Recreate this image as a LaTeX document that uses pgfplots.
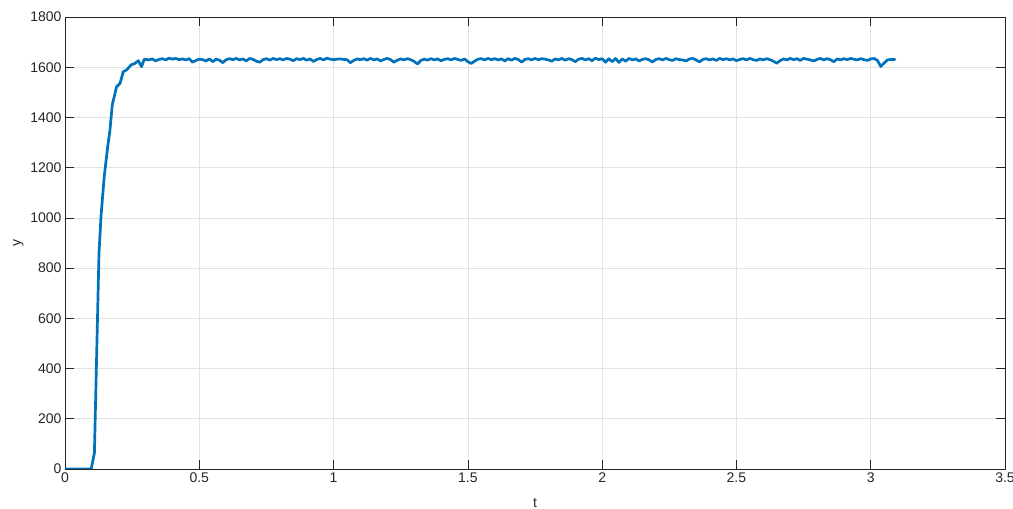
\documentclass[border=0pt]{standalone}
\usepackage{fontspec}
\setmainfont{Liberation Sans}
\usepackage{pgfplots}
\pgfplotsset{compat=1.18}
\definecolor{mblue}{HTML}{0072BD}
\definecolor{axgray}{HTML}{262626}
\definecolor{grd}{HTML}{E2E2E2}
\begin{document}
\begin{tikzpicture}
\begin{axis}[
 scale only axis, width=940pt, height=452pt,
 xmin=0, xmax=3.5, ymin=0, ymax=1800,
 xtick={0,0.5,1,1.5,2,2.5,3,3.5},
 ytick={0,200,400,600,800,1000,1200,1400,1600,1800},
 grid=major, major grid style={grd, line width=0.7pt},
 axis line style={axgray, line width=0.7pt},
 tick style={axgray, line width=0.7pt},
 major tick length=9.4pt,
 tick align=inside,
 ticklabel style={font=\fontsize{14}{16}\selectfont, text=axgray},
 label style={font=\fontsize{14}{16}\selectfont, text=axgray},
 xlabel style={yshift=-9pt},
 /pgf/number format/assume math mode=true,
 /pgf/number format/1000 sep={},
 xlabel={t}, ylabel={y},
]
\addplot[mblue, line width=2.7pt, line join=round, line cap=round] coordinates {
(0,0) (0.0975,0) (0.1095,64) (0.1266,860) (0.1340,1005) (0.1460,1164) (0.1590,1284)
(0.1675,1350) (0.1760,1450) (0.1920,1522) (0.2050,1536) (0.2170,1582) (0.2300,1590)
(0.2460,1609) (0.2600,1615) (0.2730,1626) (0.2850,1602) (0.2950,1632)
(0.3125,1629) (0.325,1633) (0.3375,1625) (0.35,1631) (0.3625,1634) (0.375,1629) (0.3875,1636) (0.4,1632)
(0.4125,1635) (0.425,1630) (0.4375,1633) (0.45,1629) (0.4625,1634) (0.475,1620) (0.4875,1627) (0.5,1632)
(0.5125,1630) (0.525,1625) (0.5375,1633) (0.55,1622) (0.5625,1632) (0.575,1628) (0.5875,1618) (0.6,1630)
(0.6125,1634) (0.625,1630) (0.6375,1635) (0.65,1629) (0.6625,1633) (0.675,1625) (0.6875,1635) (0.7,1631)
(0.7125,1624) (0.725,1620) (0.7375,1630) (0.75,1634) (0.7625,1628) (0.775,1635) (0.7875,1630) (0.8,1634)
(0.8125,1629) (0.825,1635) (0.8375,1632) (0.85,1626) (0.8625,1634) (0.875,1630) (0.8875,1635) (0.9,1628)
(0.9125,1633) (0.925,1623) (0.9375,1631) (0.95,1635) (0.9625,1629) (0.975,1636) (0.9875,1632) (1.0,1630)
(1.0125,1632) (1.025,1633) (1.0375,1631) (1.05,1630) (1.0625,1618) (1.075,1627) (1.0875,1633) (1.1,1630)
(1.1125,1634) (1.125,1628) (1.1375,1635) (1.15,1629) (1.1625,1633) (1.175,1625) (1.1875,1631) (1.2,1635)
(1.2125,1630) (1.225,1620) (1.2375,1628) (1.25,1633) (1.2625,1629) (1.275,1634) (1.2875,1630) (1.3,1623)
(1.3125,1613) (1.325,1627) (1.3375,1632) (1.35,1628) (1.3625,1634) (1.375,1629) (1.3875,1633) (1.4,1626)
(1.4125,1631) (1.425,1634) (1.4375,1629) (1.45,1635) (1.4625,1631) (1.475,1627) (1.4875,1633) (1.5,1622)
(1.5125,1615) (1.525,1624) (1.5375,1632) (1.55,1634) (1.5625,1629) (1.575,1635) (1.5875,1630) (1.6,1634)
(1.6125,1629) (1.625,1633) (1.6375,1625) (1.65,1634) (1.6625,1628) (1.675,1635) (1.6875,1631) (1.7,1620)
(1.7125,1631) (1.725,1634) (1.7375,1629) (1.75,1635) (1.7625,1630) (1.775,1634) (1.7875,1632) (1.8,1629)
(1.8125,1624) (1.825,1633) (1.8375,1629) (1.85,1635) (1.8625,1628) (1.875,1634) (1.8875,1630) (1.9,1622)
(1.9125,1632) (1.925,1635) (1.9375,1629) (1.95,1634) (1.9625,1626) (1.975,1636) (1.9875,1630) (2.0,1634)
(2.0125,1620) (2.025,1634) (2.0375,1622) (2.05,1635) (2.0625,1619) (2.075,1633) (2.0875,1624) (2.1,1635)
(2.1125,1629) (2.125,1633) (2.1375,1625) (2.15,1631) (2.1625,1634) (2.175,1629) (2.1875,1621) (2.2,1631)
(2.2125,1634) (2.225,1629) (2.2375,1635) (2.25,1630) (2.2625,1627) (2.275,1634) (2.2875,1630) (2.3,1629)
(2.3125,1625) (2.325,1633) (2.3375,1635) (2.35,1629) (2.3625,1621) (2.375,1631) (2.3875,1634) (2.4,1629)
(2.4125,1633) (2.425,1627) (2.4375,1635) (2.45,1630) (2.4625,1634) (2.475,1629) (2.4875,1633) (2.5,1626)
(2.5125,1631) (2.525,1634) (2.5375,1629) (2.55,1635) (2.5625,1630) (2.575,1627) (2.5875,1633) (2.6,1629)
(2.6125,1634) (2.625,1630) (2.6375,1624) (2.65,1616) (2.6625,1626) (2.675,1633) (2.6875,1629) (2.7,1635)
(2.7125,1630) (2.725,1634) (2.7375,1627) (2.75,1635) (2.7625,1632) (2.775,1629) (2.7875,1625) (2.8,1631)
(2.8125,1635) (2.825,1629) (2.8375,1634) (2.85,1630) (2.8625,1622) (2.875,1633) (2.8875,1629) (2.9,1634)
(2.9125,1630) (2.925,1635) (2.9375,1632) (2.95,1629) (2.9625,1634) (2.975,1630) (2.9875,1627) (3.0,1633)
(3.0125,1635) (3.025,1627) (3.0375,1603) (3.05,1617) (3.0625,1629) (3.075,1631) (3.0875,1631) (3.09,1631)
};
\coordinate (bl) at (rel axis cs:0,0);
\coordinate (tr) at (rel axis cs:1,1);
\end{axis}
\pgfresetboundingbox
\path ([shift={(-65pt,-39pt)}]bl) rectangle ([shift={(8pt,17pt)}]tr);
\end{tikzpicture}
\end{document}
